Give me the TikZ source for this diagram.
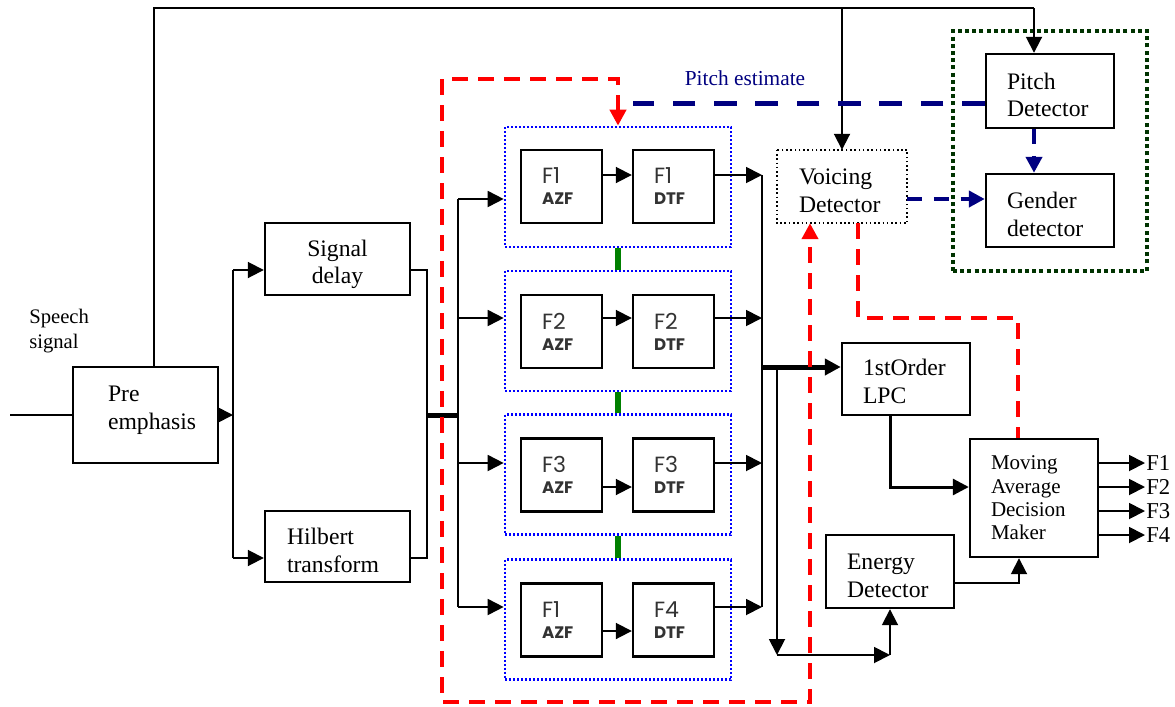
\documentclass[tikz,border=0pt]{standalone}
\usepackage{fontspec}
\setmainfont{Liberation Serif}
\newfontfamily\gfont{Poppins}
\usetikzlibrary{arrows.meta}
\definecolor{navyc}{RGB}{0,0,128}
\definecolor{dkgreen}{RGB}{0,51,0}
\definecolor{grn}{RGB}{0,128,0}
\newcommand{\mfs}{\fontsize{17.75}{20.5}\selectfont}
\newcommand{\azf}[1]{{\bfseries\fontsize{12.5}{15.75}\selectfont #1}}
\newcommand{\tp}{\rule{0pt}{18pt}}
\tikzset{
  arr/.style={-{Triangle[length=12pt,width=12pt]}},
  conn/.style={draw=black, line width=1.4pt},
  bus/.style={draw=black, line width=3.75pt},
  bx/.style={draw=black, line width=1.8pt, inner ysep=0pt, inner xsep=15.75pt,
    align=left, font=\mfs, text width=64.5pt, minimum width=96pt},
  fb/.style={draw=black, line width=1.8pt, inner ysep=0pt, inner xsep=15.75pt,
    align=left, text width=29.25pt, minimum width=60.75pt, minimum height=54.75pt,
    font=\gfont\fontsize{16.5}{15.75}\selectfont, text=black!80},
  bbox/.style={draw=blue, line width=2pt, dash pattern=on 1.5pt off 1.5pt,
    minimum width=169.5pt, minimum height=90pt, inner sep=0pt},
  reddash/.style={draw=red, line width=3pt, dash pattern=on 12pt off 7.5pt},
  navythick/.style={draw=navyc, line width=3.75pt, dash pattern=on 17pt off 14pt},
  navythin/.style={draw=navyc, line width=3pt, dash pattern=on 11pt off 9pt},
}
\begin{document}
\begin{tikzpicture}[x=0.75pt,y=-0.75pt]
\useasboundingbox[fill=white] (0,0) rectangle (1175,707);

% left part
\node[bx, minimum width=108.75pt, minimum height=72pt, text width=56.25pt, inner xsep=26.25pt]
  (pre) at (145.5,415) {\tp Pre\\emphasis\\[-3pt]\mbox{}};
\node[bx, minimum width=108.75pt, minimum height=54pt, text width=77.25pt, align=center]
  (sd) at (337.5,259) {\rule{0pt}{20pt}Signal\\delay};
\node[bx, minimum width=108.75pt, minimum height=53.25pt, text width=75.75pt, inner xsep=16.5pt]
  (hb) at (337.5,546.5) {\tp Hilbert\\transform};
\node[anchor=west, inner sep=0pt, align=left, font=\fontsize{15.5}{18.75}\selectfont]
  (sp) at (29,331) {Speech\\signal};

% filter bank
\node[bbox] (b1) at (618,187) {};
\node[bbox] (b2) at (618,331) {};
\node[bbox] (b3) at (618,474.5) {};
\node[bbox] (b4) at (618,619.5) {};
\foreach \i/\y/\a/\d in {1/186.5/F1/F1, 2/331.5/F2/F2, 3/475/F3/F3, 4/620/F1/F4}{
  \node[fb] (a\i) at (561.5,\y) {\a\\\azf{AZF}};
  \node[fb] (d\i) at (673.5,\y) {\d\\\azf{DTF}};
}
\foreach \i/\y in {1/175,2/318,3/487,4/631}
  \draw[conn,arr] (a\i.east |- 0,\y) -- (d\i.west |- 0,\y);
\draw[draw=grn, line width=4.5pt] (b1.south) -- (b2.north);
\draw[draw=grn, line width=4.5pt] (b2.south) -- (b3.north);
\draw[draw=grn, line width=4.5pt] (b3.south) -- (b4.north);

% right part
\node[bx, minimum height=53.25pt, draw=none] (vd) at (842,186.5) {\tp Voicing\\Detector};
\draw[line width=1.1pt, dash pattern=on 1.2pt off 2pt] (vd.north west) rectangle (vd.south east);
\node[bx, minimum height=55.5pt] (pd) at (1050,91) {\tp Pitch\\Detector};
\node[bx, minimum height=54.75pt] (gd) at (1050,210.5) {\tp Gender\\detector};
\node[draw=dkgreen, line width=3pt, dash pattern=on 3pt off 2.4pt, minimum width=145.5pt,
  minimum height=180pt, inner sep=0pt] (gb) at (1050,151) {};
\node[bx, minimum height=54pt] (lpc) at (906,379) {\rule{0pt}{16pt}1stOrder\\LPC};
\node[bx, minimum height=54.75pt] (ed) at (890,571.5) {\tp Energy\\Detector};
\node[bx, minimum height=88.5pt, font=\fontsize{15.75}{17.5}\selectfont] (ma) at (1034,498)
  {Moving\\Average\\Decision\\Maker};
\node[font=\fontsize{16}{18}\selectfont, text=navyc, inner sep=0pt] (pel) at (745,78) {Pitch estimate};

% coordinates
\coordinate (in) at (10,415);
\coordinate (tl) at (154,8);
\coordinate (tr) at (1034,8);
\coordinate (s1) at (233,415);
\coordinate (ya) at (233,270);
\coordinate (yb) at (233,558);
\coordinate (m1) at (427,270);
\coordinate (m2) at (427,558);
\coordinate (mm) at (427,415);
\coordinate (bt) at (458,199);
\coordinate (bb) at (458,607);
\coordinate (ct) at (762,175);
\coordinate (cb) at (762,607);
\coordinate (cm) at (762,367);
\coordinate (v1) at (777,367);
\coordinate (v2) at (777,655);
\coordinate (v3) at (890,655);
\coordinate (lq) at (890,487);
\coordinate (eq) at (1019,583);
\coordinate (r1) at (442,79);
\coordinate (r2) at (618,79);
\coordinate (r3) at (442,702);
\coordinate (r4) at (810,702);
\coordinate (q1) at (858,318);
\coordinate (q2) at (1018,318);
\coordinate (pe) at (633,103);
\coordinate (ng) at (986,199);

% black connectors
\draw[conn] (in) -- (pre.west);
\draw[conn] (tl |- pre.north) -- (tl) -- (tr);
\draw[conn,arr] (tr) -- (tr |- pd.north);
\draw[conn,arr] (vd.north |- tl) -- (vd.north);
\draw[conn,arr] (pre.east) -- (s1);
\draw[conn] (ya) -- (yb);
\draw[conn,arr] (ya) -- (ya -| sd.west);
\draw[conn,arr] (yb) -- (yb -| hb.west);
\draw[conn] (m1 -| sd.east) -- (m1) -- (m2) -- (m2 -| hb.east);
\draw[bus] (mm) -- (mm -| bt);
\draw[conn] (bt) -- (bb);
\foreach \i/\y in {1/199,2/318,3/463,4/607}
  \draw[conn,arr] (bt |- 0,\y) -- (b\i.west |- 0,\y);
\foreach \i/\y in {1/175,2/318,3/463,4/607}
  \draw[conn,arr] (d\i.east |- 0,\y) -- (ct |- 0,\y);
\draw[conn] (ct) -- (cb);
\draw[bus,arr] (cm) -- (cm -| lpc.west);
\draw[conn,arr] (v1) -- (v2);
\draw[conn,arr] (v2) -- (v3);
\draw[conn,arr] (v3) -- (ed.south);
\draw[draw=black, line width=2.25pt,arr] (lq |- lpc.south) -- (lq) -- (lq -| ma.west);
\draw[conn,arr] (eq -| ed.east) -- (eq) -- (eq |- ma.south);
\foreach \i/\y in {1/463,2/487,3/511,4/535}{
  \draw[conn,arr] (ma.east |- 0,\y) -- (1145,\y);
  \node[anchor=west, inner sep=0pt, font=\fontsize{17}{19}\selectfont] (fo\i) at (1146,\y) {F\i};
}

% red dashed feedback
\draw[reddash, {Triangle[length=12pt,width=12pt,fill=red]}-{Triangle[length=12pt,width=12pt,fill=red]}]
  (b1.north) -- (r2) -- (r1) -- (r3) -- (r4) -- (r4 |- vd.south);
\draw[reddash] (q1 |- vd.south) -- (q1) -- (q2) -- (q2 |- ma.north);

% navy dashed
\draw[navythick] (pe -| pd.west) -- (pe);
\draw[navythin, -{Triangle[length=12pt,width=12pt]}] (ng -| vd.east) -- (ng -| gd.west);
\draw[navythin, -{Triangle[length=12pt,width=12pt]}] (tr |- pd.south) -- (tr |- gd.north);
\end{tikzpicture}
\end{document}
